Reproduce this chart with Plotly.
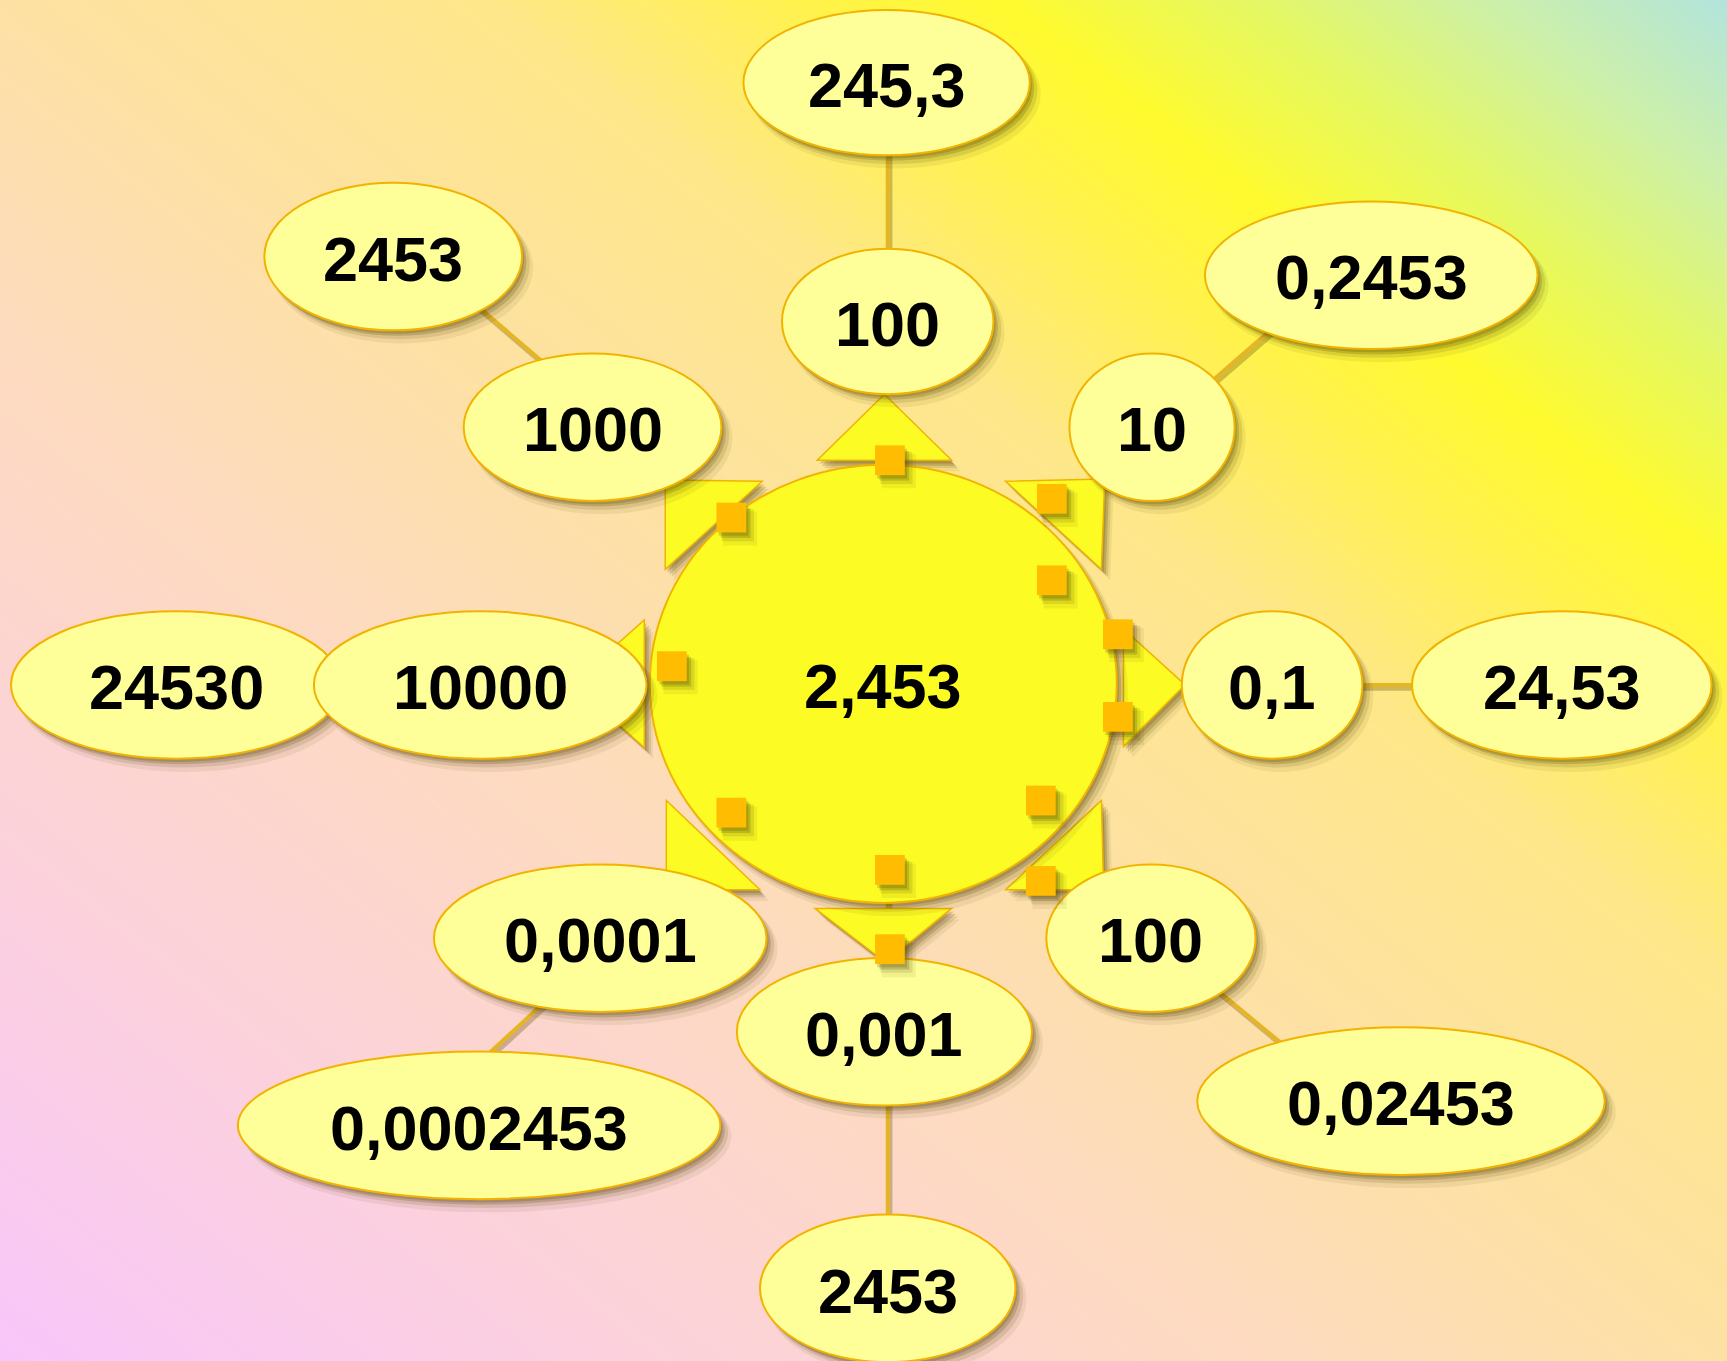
import numpy as np
import plotly.graph_objects as go

# ---------------- data (labels) ----------------
center_label = "2,453"
# clockwise from top: top, top-right, right, bottom-right, bottom, bottom-left, left, top-left
inner_labels = ["100", "10", "0,1", "100", "0,001", "0,0001", "10000", "1000"]
outer_labels = ["245,3", "0,2453", "24,53", "0,02453", "2453", "0,0002453", "24530", "2453"]

# ---------------- layout (design units, 1568 x 1236 canvas) ----------------
W, H = 1568, 1236
center_geo = (802, 621, 212, 199)
inner_geo = [(806, 292, 96, 66), (1046, 388, 75, 67), (1155, 622, 82, 67), (1045, 852, 95, 67),
             (803, 937, 134, 67), (545, 852, 151, 67), (436, 622, 151, 67), (538, 388, 117, 67)]
outer_geo = [(805, 75, 130, 66), (1245, 250, 151, 67), (1418, 622, 136, 67), (1272, 1000, 185, 67),
             (806, 1170, 116, 67), (435, 1022, 219, 67), (160, 622, 150, 67), (357, 233, 117, 67)]
connectors = [(806, 130, 806, 240), (1165, 290, 1090, 355), (1230, 622, 1290, 622),
              (1100, 895, 1170, 953), (806, 990, 806, 1115), (500, 905, 435, 965),
              (430, 275, 500, 335), (806, 800, 806, 840)]
triangles = [[(742, 418), (864, 418), (803, 358)],
             [(913, 437), (1003, 435), (1000, 517)],
             [(1020, 571), (1076, 622), (1020, 678)],
             [(1000, 727), (1002, 808), (913, 808)],
             [(740, 825), (864, 825), (804, 874)],
             [(605, 727), (605, 808), (690, 808)],
             [(585, 563), (585, 679), (520, 621)],
             [(604, 517), (604, 436), (692, 437)]]
squares = [(808, 418), (664, 470), (955, 453), (955, 527), (1015, 576), (1015, 651),
           (610, 605), (664, 738), (808, 790), (945, 727), (945, 800), (808, 862)]
SQ = 13.5

# ---------------- styles ----------------
BORDER = "#F2B300"
INNER_FILL = "#FFFF99"
SUN_FILL = "#FCFC24"
SQUARE_FILL = "#FFBC00"
LINE_COLOR = "#E6B524"
SHADOW = "#4A3C00"
TEXT_FONT = dict(family="Liberation Sans, Arial, sans-serif", size=63, color="black", weight="bold")

bg_scale = [[0.0, "#F9C6FA"], [0.2, "#FCD2DA"], [0.38, "#FDDBBE"], [0.5, "#FDE1A4"],
            [0.64, "#FEE78A"], [0.73, "#FFF24E"], [0.79, "#FFFA2E"], [0.86, "#E5F862"],
            [0.93, "#CDF0A8"], [1.0, "#B2E4DC"]]

fig = go.Figure()

nx, ny = 90, 72
xs = np.linspace(0, W, nx)
ys = np.linspace(0, H, ny)
X, Y = np.meshgrid(xs, ys)
T = (X / W + (1 - Y / H)) / 2
fig.add_trace(go.Heatmap(x=xs, y=ys, z=T, colorscale=bg_scale, zmin=0, zmax=1,
                         zsmooth="best", showscale=False, hoverinfo="skip"))

shapes = []
SHADOW_STEPS = [(8, 10, 2, 0.08), (6, 7, 1, 0.13), (4, 5, 0, 0.2), (2, 3, 0, 0.2)]


def shadows_for(make, *args):
    for dx, dy, grow, op in SHADOW_STEPS:
        shapes.append(make(*args, dx=dx, dy=dy, grow=grow, shadow=op))


def ellipse(cx, cy, rx, ry, fill=INNER_FILL, dx=0, dy=0, grow=0, shadow=None):
    d = dict(type="circle", xref="x", yref="y",
             x0=cx - rx - grow + dx, x1=cx + rx + grow + dx,
             y0=cy - ry - grow + dy, y1=cy + ry + grow + dy)
    if shadow is not None:
        d.update(fillcolor=SHADOW, opacity=shadow, line=dict(width=0))
    else:
        d.update(fillcolor=fill, line=dict(color=BORDER, width=2))
    return d


def tri(pts, dx=0, dy=0, grow=0, shadow=None):
    path = "M " + " L ".join(f"{x + dx},{y + dy}" for x, y in pts) + " Z"
    d = dict(type="path", xref="x", yref="y", path=path)
    if shadow is not None:
        d.update(fillcolor=SHADOW, opacity=shadow, line=dict(width=0))
    else:
        d.update(fillcolor=SUN_FILL, line=dict(color=BORDER, width=1.5))
    return d


def square(cx, cy, dx=0, dy=0, grow=0, shadow=None):
    d = dict(type="rect", xref="x", yref="y",
             x0=cx - SQ - grow + dx, x1=cx + SQ + grow + dx,
             y0=cy - SQ - grow + dy, y1=cy + SQ + grow + dy)
    if shadow is not None:
        d.update(fillcolor=SHADOW, opacity=shadow, line=dict(width=0))
    else:
        d.update(fillcolor=SQUARE_FILL, line=dict(width=0))
    return d


# connectors
for x0, y0, x1, y1 in connectors:
    shapes.append(dict(type="line", xref="x", yref="y", x0=x0 + 2, y0=y0 + 3, x1=x1 + 2, y1=y1 + 3,
                       line=dict(color="rgba(90,70,0,0.3)", width=5)))
    shapes.append(dict(type="line", xref="x", yref="y", x0=x0, y0=y0, x1=x1, y1=y1,
                       line=dict(color=LINE_COLOR, width=4)))

# triangles
for pts in triangles:
    shadows_for(tri, pts)
    shapes.append(tri(pts))

# sun
cx, cy, rx, ry = center_geo
shadows_for(ellipse, cx, cy, rx, ry)
shapes.append(ellipse(cx, cy, rx, ry, fill=SUN_FILL))

# outer then inner ellipses
for geo in outer_geo + inner_geo:
    shadows_for(ellipse, *geo)
    shapes.append(ellipse(*geo))

# squares
for sx, sy in squares:
    shadows_for(square, sx, sy)
    shapes.append(square(sx, sy))

annotations = [dict(x=cx, y=cy + 2, xref="x", yref="y", text=center_label, showarrow=False,
                    font=TEXT_FONT, xanchor="center", yanchor="middle")]
for lab, geo in zip(outer_labels + inner_labels, outer_geo + inner_geo):
    annotations.append(dict(x=geo[0], y=geo[1] + 2, xref="x", yref="y", text=lab, showarrow=False,
                            font=TEXT_FONT, xanchor="center", yanchor="middle"))

fig.update_layout(
    width=1727, height=1361,
    margin=dict(l=0, r=0, t=0, b=0),
    xaxis=dict(range=[0, W], visible=False, fixedrange=True),
    yaxis=dict(range=[H, 0], visible=False, fixedrange=True),
    shapes=shapes, annotations=annotations,
    showlegend=False,
    paper_bgcolor="#FDE1A4", plot_bgcolor="#FDE1A4",
)

fig.write_html("out.html", config={"displayModeBar": False},
               post_script="document.body.style.margin='0';document.body.style.overflow='hidden';")
